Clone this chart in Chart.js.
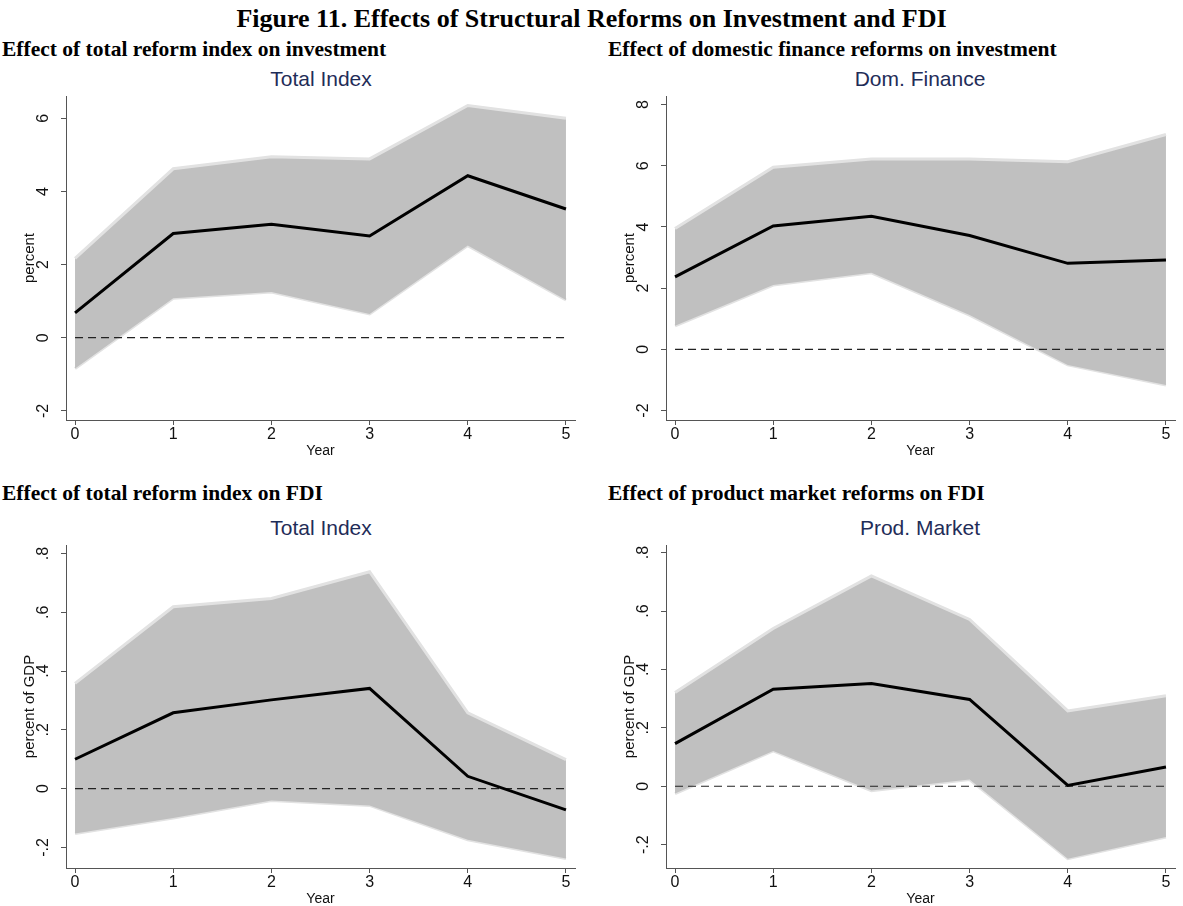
<!DOCTYPE html>
<html>
<head>
<meta charset="utf-8">
<script src="https://cdn.jsdelivr.net/npm/chart.js@4.4.1/dist/chart.umd.min.js"></script>
<style>
  body { margin: 0; background: #fff; width: 1183px; height: 906px; position: relative; overflow: hidden; }
  .t { position: absolute; font-family: "Liberation Serif", "Times New Roman", serif; font-weight: bold; color: #000; white-space: nowrap; line-height: 1; }
  .pt { position: absolute; font-family: "Liberation Sans", Arial, sans-serif; font-size: 21px; line-height: 1; color: #1f2d58; white-space: nowrap; transform: translateX(-50%); }
  canvas { position: absolute; }
</style>
</head>
<body>
<div class="t" style="left:0;width:1183px;text-align:center;top:6px;font-size:26px;">Figure 11. Effects of Structural Reforms on Investment and FDI</div>
<div class="t" style="left:2px;top:39px;font-size:21.5px;">Effect of total reform index on investment</div>
<div class="t" style="left:608px;top:39px;font-size:21.5px;">Effect of domestic finance reforms on investment</div>
<div class="t" style="left:2px;top:483px;font-size:21.5px;">Effect of total reform index on FDI</div>
<div class="t" style="left:608px;top:483px;font-size:21.5px;">Effect of product market reforms on FDI</div>

<div class="pt" style="left:321px;top:68px;">Total Index</div>
<div class="pt" style="left:920px;top:68px;">Dom. Finance</div>
<div class="pt" style="left:321px;top:517px;">Total Index</div>
<div class="pt" style="left:920px;top:517px;">Prod. Market</div>

<canvas id="c1" width="585" height="372" style="left:0;top:90px;"></canvas>
<canvas id="c2" width="583" height="372" style="left:600px;top:90px;"></canvas>
<canvas id="c3" width="585" height="371" style="left:0;top:539px;"></canvas>
<canvas id="c4" width="583" height="371" style="left:600px;top:539px;"></canvas>

<script>
// Años después de la reforma
const years = [0, 1, 2, 3, 4, 5];

// Inversión - índice total
const invTotalEst = [0.68, 2.85, 3.10, 2.78, 4.43, 3.52];
const invTotalUpper = [2.17, 4.62, 4.95, 4.89, 6.35, 6.00];
const invTotalLower = [-0.84, 1.08, 1.25, 0.65, 2.52, 1.03];

// Inversión - finanzas domésticas
const invFinEst = [2.37, 4.03, 4.35, 3.72, 2.81, 2.92];
const invFinUpper = [3.95, 5.95, 6.22, 6.22, 6.13, 7.02];
const invFinLower = [0.77, 2.10, 2.50, 1.12, -0.51, -1.17];

// IED - índice total
const fdiTotalEst = [0.100, 0.258, 0.302, 0.341, 0.042, -0.072];
const fdiTotalUpper = [0.358, 0.619, 0.647, 0.738, 0.258, 0.099];
const fdiTotalLower = [-0.153, -0.100, -0.040, -0.057, -0.174, -0.238];

// IED - mercado de productos
const fdiProdEst = [0.146, 0.332, 0.352, 0.297, 0.003, 0.066];
const fdiProdUpper = [0.321, 0.540, 0.720, 0.571, 0.258, 0.310];
const fdiProdLower = [-0.025, 0.121, -0.015, 0.023, -0.248, -0.174];

// Marcas de los ejes
const invTicks = [-2, 0, 2, 4, 6];
const finTicks = [-2, 0, 2, 4, 6, 8];
const fdiTicks = [-0.2, 0, 0.2, 0.4, 0.6, 0.8];

const axisColor = '#555555';
const sans = '"Liberation Sans", Arial, sans-serif';

function stataLabel(v) {
    return String(+v.toFixed(1)).replace('0.', '.');
}

function pts(arr) {
    return years.map((x, i) => ({ x: x, y: arr[i] }));
}

function panel(id, est, upper, lower, ticks, yMin, yMax, yTitle, tickPad, padRight) {
    const ctx = document.getElementById(id).getContext('2d');
    return new Chart(ctx, {
        type: 'line',
        data: {
            datasets: [
                { data: pts(est), borderColor: '#000', borderWidth: 3, pointRadius: 0, fill: false, borderJoinStyle: 'miter' },
                { data: pts(years.map(() => 0)), borderColor: '#222', borderWidth: 1.2, borderDash: [8, 5], pointRadius: 0, fill: false },
                { data: pts(upper), borderColor: '#e2e2e2', borderWidth: 3, pointRadius: 0, fill: '+1', backgroundColor: '#c0c0c0' },
                { data: pts(lower), borderColor: '#e2e2e2', borderWidth: 3, pointRadius: 0, fill: false }
            ]
        },
        options: {
            responsive: false,
            animation: false,
            layout: { padding: { top: 6, right: padRight, left: 0, bottom: 0 } },
            plugins: { legend: { display: false }, tooltip: { enabled: false } },
            scales: {
                x: {
                    type: 'linear',
                    min: -0.092,
                    max: 5.092,
                    afterBuildTicks: s => { s.ticks = years.map(v => ({ value: v })); },
                    afterFit: s => { s.height = 42; s.paddingLeft = 0; s.paddingRight = 0; },
                    grid: { drawOnChartArea: false, drawTicks: true, tickLength: 5, color: axisColor },
                    border: { color: axisColor, width: 1 },
                    ticks: { color: '#111', font: { family: sans, size: 16 }, padding: 0, maxRotation: 0 },
                    title: { display: true, text: 'Year', color: '#111', font: { family: sans, size: 14 }, padding: { top: 0, bottom: 2 } }
                },
                y: {
                    type: 'linear',
                    min: yMin,
                    max: yMax,
                    afterBuildTicks: s => { s.ticks = ticks.map(v => ({ value: v })); },
                    afterFit: s => { s.width = 66; s.paddingTop = 0; s.paddingBottom = 0; },
                    grid: { drawOnChartArea: false, drawTicks: true, tickLength: 5, color: axisColor },
                    border: { color: axisColor, width: 1 },
                    ticks: {
                        color: '#111',
                        font: { family: sans, size: 16 },
                        minRotation: 90,
                        maxRotation: 90,
                        crossAlign: 'center',
                        padding: tickPad,
                        callback: v => stataLabel(v)
                    },
                    title: { display: true, text: yTitle, color: '#111', font: { family: sans, size: 15 }, padding: { top: 21, bottom: 0 } }
                }
            }
        }
    });
}

panel('c1', invTotalEst, invTotalUpper, invTotalLower, invTicks, -2.25, 6.61, 'percent', 10, 10);
panel('c2', invFinEst, invFinUpper, invFinLower, finTicks, -2.31, 8.28, 'percent', 10, 8);
panel('c3', fdiTotalEst, fdiTotalUpper, fdiTotalLower, fdiTicks, -0.27, 0.829, 'percent of GDP', 8, 10);
panel('c4', fdiProdEst, fdiProdUpper, fdiProdLower, fdiTicks, -0.28, 0.826, 'percent of GDP', 8, 8);
</script>
</body>
</html>
